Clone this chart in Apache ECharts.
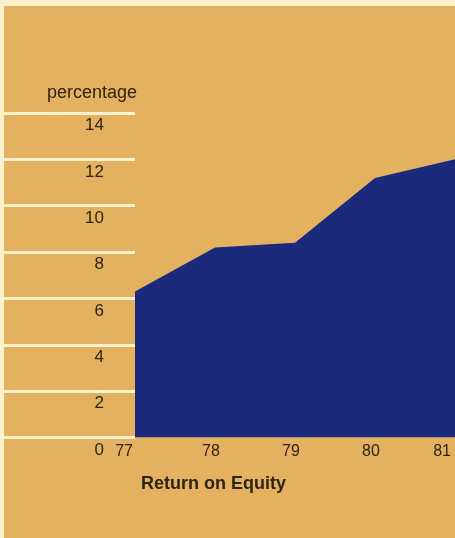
<!DOCTYPE html>
<html>
<head>
<meta charset="utf-8">
<script src="https://cdn.jsdelivr.net/npm/echarts@6/dist/echarts.min.js"></script>
<style>
  html, body { margin: 0; padding: 0; background: #E3B15F; }
  #chart { width: 455px; height: 538px; }
</style>
</head>
<body>
<div id="chart"></div>
<script>
const years = ['77', '78', '79', '80', '81'];
const roeValues = [6.3, 8.2, 8.4, 11.2, 12.0];
const yTicks = { min: 0, max: 14, interval: 2 };
const yTitle = 'percentage';
const xTitle = 'Return on Equity';

const FONT = '"Liberation Sans", Arial, Helvetica, sans-serif';
const TEXT = '#2F2414';
const CREAM = '#FCF1CC';

const chart = echarts.init(document.getElementById('chart'));
chart.setOption({
  backgroundColor: '#E3B15F',
  animation: false,
  title: {
    text: xTitle,
    left: 136,
    top: 470,
    textStyle: { fontFamily: FONT, fontSize: 18, fontWeight: 'bold', color: TEXT }
  },
  graphic: [
    { type: 'rect', left: 0, top: 0, shape: { width: 455, height: 6 }, style: { fill: CREAM }, z: 100 },
    { type: 'rect', left: 0, top: 0, shape: { width: 4, height: 538 }, style: { fill: CREAM }, z: 100 }
  ],
  grid: { left: 135, right: -2, top: 113, bottom: 100.5, containLabel: false },
  xAxis: {
    type: 'category',
    data: years,
    boundaryGap: false,
    axisLine: { show: false },
    axisTick: { show: false },
    splitLine: { show: false },
    axisLabel: {
      color: TEXT, fontFamily: FONT, fontSize: 16, margin: 6,
      alignMinLabel: 'right', alignMaxLabel: 'right',
      formatter: function (v, i) {
        if (i === 0) return '{e|' + v + '}';
        if (i === years.length - 1) return '{l|' + v + '}';
        return '{m|' + v + '}';
      },
      rich: {
        e: { color: TEXT, fontFamily: FONT, fontSize: 16, padding: [0, 2, 0, 0] },
        l: { color: TEXT, fontFamily: FONT, fontSize: 16, padding: [0, 4, 0, 0] },
        m: { color: TEXT, fontFamily: FONT, fontSize: 16, padding: [0, 8, 0, 0] }
      }
    }
  },
  yAxis: {
    type: 'value',
    min: yTicks.min, max: yTicks.max, interval: yTicks.interval,
    name: yTitle,
    nameLocation: 'end',
    nameGap: 20,
    nameTextStyle: { fontFamily: FONT, fontSize: 18, color: TEXT, align: 'right', verticalAlign: 'middle', padding: [0, -2, 0, 0] },
    axisLine: { show: false },
    splitLine: { show: false },
    axisTick: { show: true, inside: false, length: 135, lineStyle: { color: CREAM, width: 3 } },
    axisLabel: {
      color: TEXT, fontFamily: FONT, fontSize: 17, margin: 31,
      align: 'right', verticalAlign: 'top', padding: [4, 0, 0, 0]
    }
  },
  series: [{
    type: 'line',
    data: roeValues,
    symbol: 'none',
    lineStyle: { width: 0 },
    areaStyle: { color: '#1B2A7A', opacity: 1 },
    z: 5
  }]
});
</script>
</body>
</html>
